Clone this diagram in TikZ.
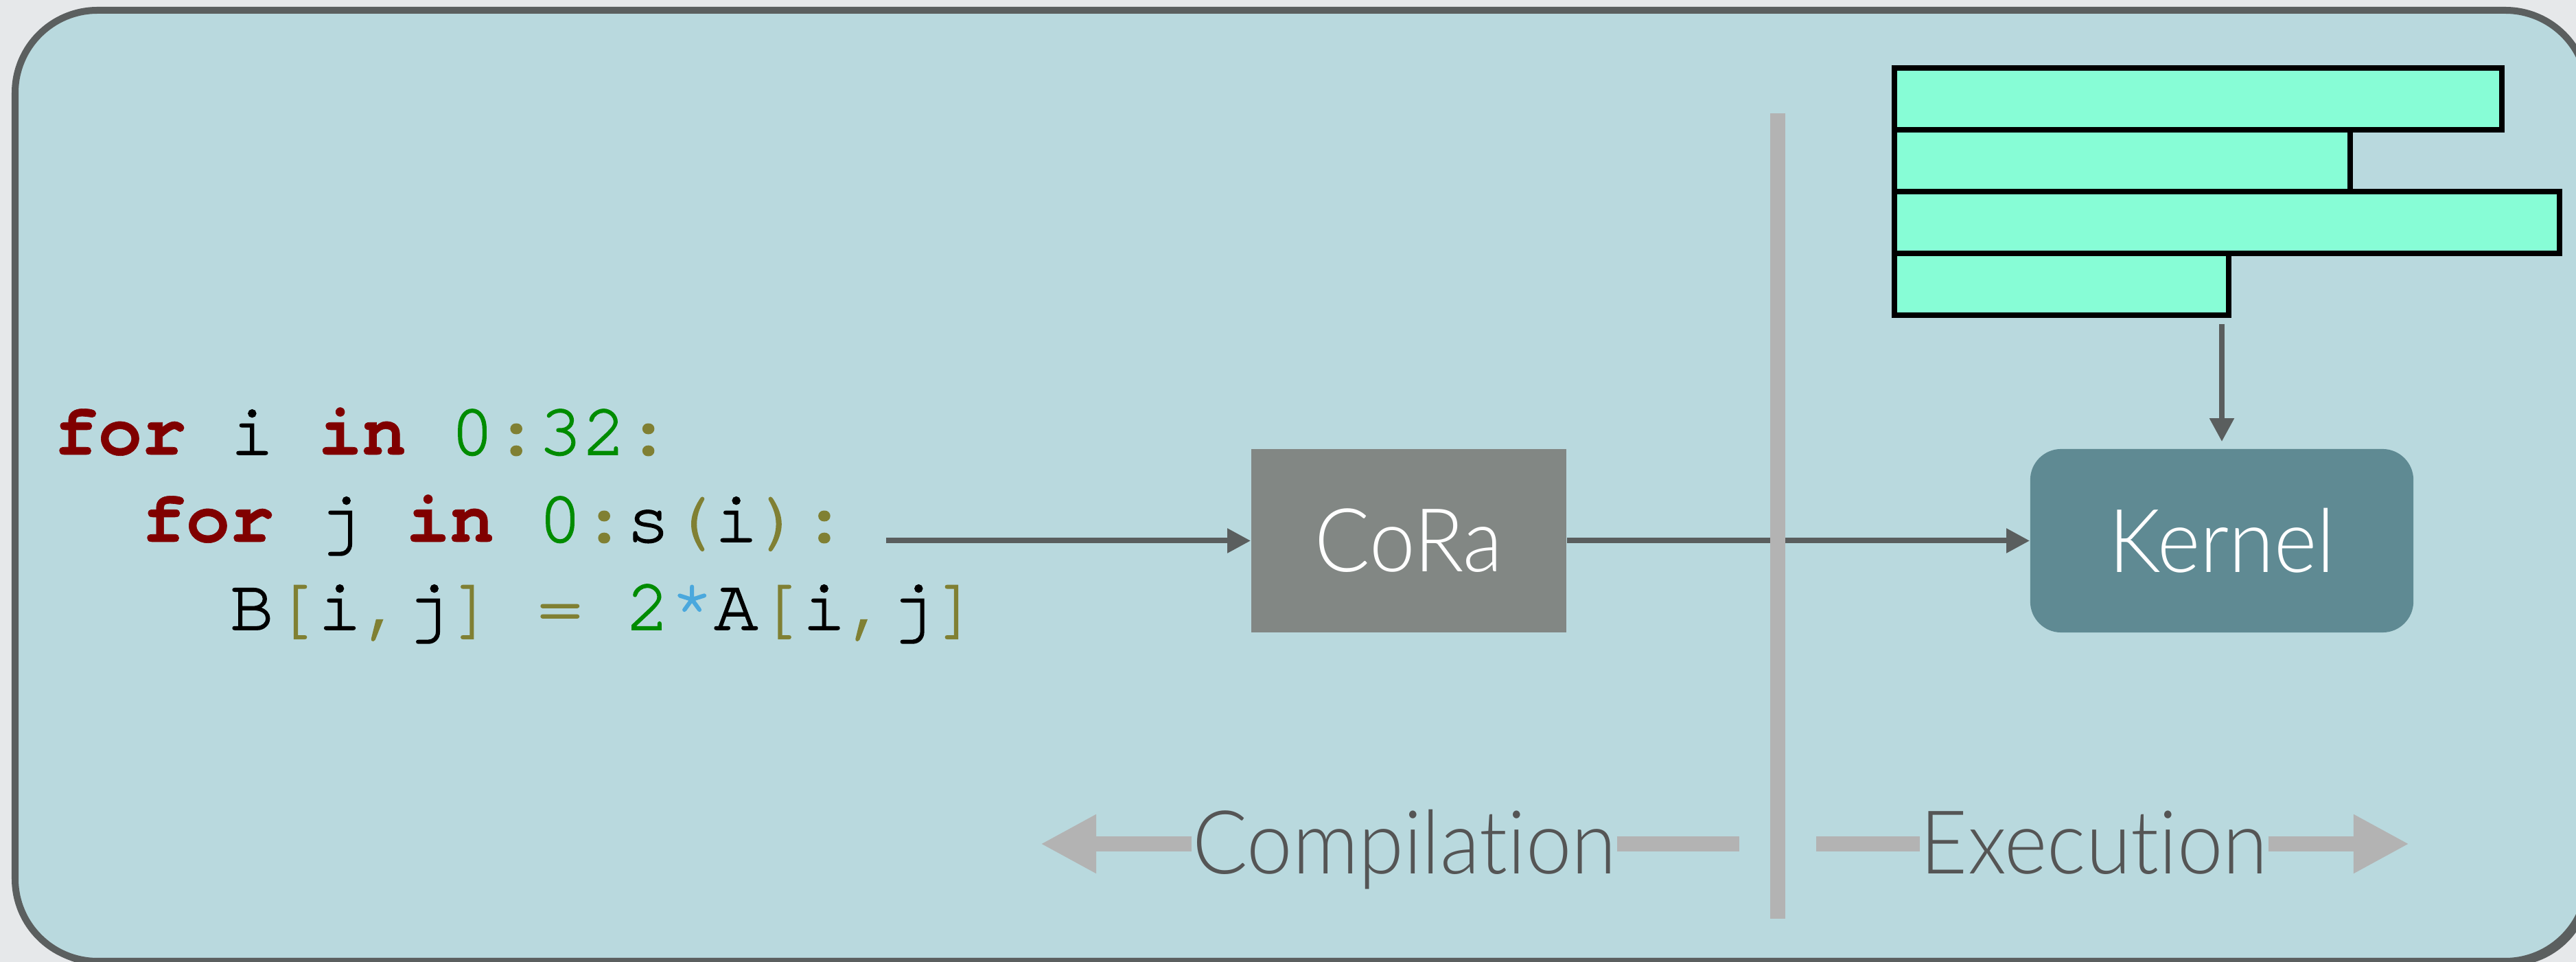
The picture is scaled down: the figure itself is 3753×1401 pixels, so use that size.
\documentclass[tikz,border=0pt]{standalone}
\usepackage{fontspec}
\usetikzlibrary{arrows.meta}
\newfontfamily\codefont{TeX Gyre Cursor}[UprightFeatures={FakeBold=1.6}, BoldFeatures={FakeBold=0.6}]
\newfontfamily\gillfont{Lato Light}[FakeStretch=0.93, RawFeature={-liga;-dlig;-calt}]
\definecolor{outbg}{HTML}{E6E8EA}
\definecolor{framefill}{HTML}{B9D9DE}
\definecolor{framegray}{HTML}{5B5F5F}
\definecolor{lineg}{HTML}{5A5E5E}
\definecolor{corafill}{HTML}{828784}
\definecolor{kernfill}{HTML}{5F8A93}
\definecolor{barfill}{HTML}{87FDD6}
\definecolor{sepg}{HTML}{B3B3B3}
\definecolor{textg}{HTML}{555555}
\definecolor{kwred}{HTML}{800000}
\definecolor{numgreen}{HTML}{008C00}
\definecolor{puncol}{HTML}{808033}
\definecolor{opblue}{HTML}{4AA8DD}
\newcommand\ckw[1]{\textcolor{kwred}{\bfseries #1}}
\newcommand\cnum[1]{\textcolor{numgreen}{#1}}
\newcommand\cpun[1]{\textcolor{puncol}{#1}}
\newcommand\cop[1]{\textcolor{opblue}{#1}}
\tikzset{
  codeline/.style={anchor=base west, inner sep=0pt, text=black,
    font=\codefont\fontsize{30.4}{36}\selectfont},
  boxlabel/.style={text=white, inner sep=0pt,
    font=\gillfont\fontsize{36.5}{40}\selectfont},
  corabox/.style={boxlabel, fill=corafill, minimum width=4.59cm, minimum height=2.67cm},
  kernelbox/.style={boxlabel, fill=kernfill, rounded corners=0.45cm, minimum width=5.58cm, minimum height=2.67cm},
  conn/.style={draw=lineg, line width=0.08cm, -{Triangle[length=0.34cm,width=0.34cm]}},
  barbox/.style={draw=black, fill=barfill, line width=0.08cm, anchor=north west, minimum height=0.9cm, inner sep=0pt},
  phasetext/.style={anchor=base, inner xsep=0pt, inner ysep=0pt, text=textg,
    font=\gillfont\fontsize{36.5}{40}\selectfont},
  phase/.style={draw=sepg, line width=0.21cm},
  phasehead/.style={phase, -{Triangle[length=0.81cm,width=0.80cm]}},
  framebox/.style={draw=framegray, fill=framefill, line width=0.1cm, rounded corners=1.2cm}
}
\begin{document}
\begin{tikzpicture}[x=0.01cm,y=-0.01cm]
\useasboundingbox (0,0) rectangle (3753,1401);
\clip (0,0) rectangle (3753,1401);
\fill[outbg] (0,0) rectangle (3753,1401);
% frame with slight shadow
\fill[framegray, rounded corners=1.2cm] (26,20) rectangle (3776,1407);
\draw[framebox] (22,15) rectangle (3770,1400);

% code
\node[codeline] (l1) at (78,662) {\ckw{for} i \ckw{in} \cnum{0}\cpun{:}\cnum{32}\cpun{:}};
\node[codeline] (l2) at (206,789) {\ckw{for} j \ckw{in} \cnum{0}\cpun{:}s\cpun{(}i\cpun{)}\cpun{:}};
\node[codeline] (l3) at (334,917) {B\cpun{[}i\cpun{,}j\cpun{]} \cpun{=} \cnum{2}\cop{*}A\cpun{[}i\cpun{,}j\cpun{]}};

% main boxes
\node[corabox] (cora) at (2052.5,787.5) {CoRa};
\node[kernelbox] (kernel) at (3237,787.5) {Kernel};

\coordinate (codeend) at (1291,787.5);
\draw[conn] (codeend) -- (cora.west);
\draw[conn] (cora.east) -- (kernel.west);

% bars
\node[barbox, minimum width=8.84cm] (b1) at (2756,95) {};
\node[barbox, minimum width=6.64cm] (b2) at (2756,185) {};
\node[barbox, minimum width=9.68cm] (b3) at (2756,275) {};
\node[barbox, minimum width=4.87cm] (b4) at (2756,365) {};
\coordinate (bstart) at (3237,472);
\draw[conn, shorten >=0.1cm] (bstart) -- (kernel.north);

% separator
\draw[sepg, line width=0.22cm] (2590,165) -- (2590,1338);

% phases
\node[phasetext] (comp) at (2046,1273) {Compilation};
\node[phasetext] (exec) at (3051,1273) {Execution};
\coordinate (cl) at (1516,1229);
\coordinate (cr) at (2534,1229);
\coordinate (el) at (2646,1229);
\coordinate (er) at (3510,1229);
\draw[phasehead] (comp.west |- cl) -- (cl);
\draw[phase] (comp.east |- cr) -- (cr);
\draw[phase] (el) -- (exec.west |- el);
\draw[phasehead] (exec.east |- er) -- (er);
\end{tikzpicture}
\end{document}
